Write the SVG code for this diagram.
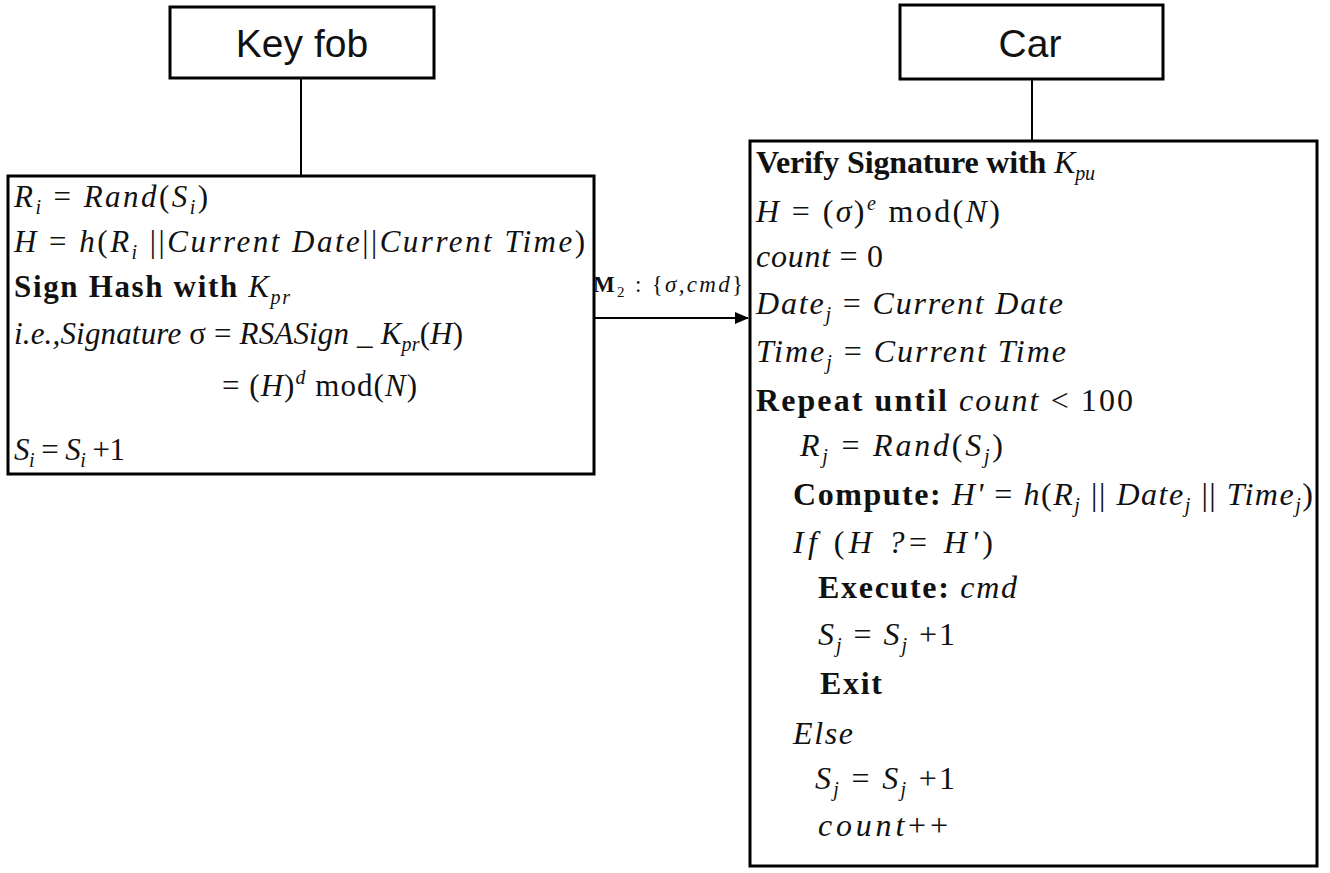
<svg xmlns="http://www.w3.org/2000/svg" width="1330" height="873" viewBox="0 0 1330 873">
<defs>
<marker id="ah" markerWidth="14" markerHeight="12" refX="13" refY="6" orient="auto" markerUnits="userSpaceOnUse">
<path d="M0,0 L14,6 L0,12 Z" fill="#000"/>
</marker>
</defs>
<style>
.box{fill:#fff;stroke:#000;stroke-width:3}
.ln{stroke:#000;stroke-width:2;fill:none}
.t{font-family:"Liberation Sans",Arial,sans-serif;font-size:39px;fill:#111}
.m{font-family:"Liberation Serif","Times New Roman",serif;font-size:31px;font-style:italic;fill:#111}
.r{font-size:32px}
.u{font-style:normal}
.b{font-style:normal;font-weight:bold}
.s{font-size:20px}
.lab{font-family:"Liberation Serif","Times New Roman",serif;font-size:23px;font-style:italic;fill:#111}
</style>
<g id="keyfob">
<rect class="box" x="170" y="7" width="264" height="71"/>
<text class="t" x="302" y="57" text-anchor="middle">Key fob</text>
</g>
<g id="car">
<rect class="box" x="900" y="5" width="263" height="74"/>
<text class="t" x="1030" y="57" text-anchor="middle">Car</text>
</g>
<g id="keyfob-proc">
<rect class="box" x="8" y="176" width="586" height="298"/>
<text class="m" x="14" y="207" textLength="194">R<tspan class="s" dy="7">i</tspan><tspan class="u" dy="-7"> = </tspan>Rand<tspan class="u">(</tspan>S<tspan class="s" dy="7">i</tspan><tspan class="u" dy="-7">)</tspan></text>
<text class="m" x="14" y="252" textLength="571">H<tspan class="u"> = </tspan>h<tspan class="u">(</tspan>R<tspan class="s" dy="7">i</tspan><tspan class="u" dy="-7"> ||</tspan>Current Date<tspan class="u">||</tspan>Current Time<tspan class="u">)</tspan></text>
<text class="m" x="14" y="297" textLength="276"><tspan class="b">Sign Hash with </tspan>K<tspan class="s" dy="7">pr</tspan></text>
<text class="m" x="14" y="344" textLength="449">i.e.,Signature <tspan class="u">σ = </tspan>RSASign<tspan class="u"> _ </tspan>K<tspan class="s" dy="7">pr</tspan><tspan class="u" dy="-7">(</tspan>H<tspan class="u">)</tspan></text>
<text class="m" x="222" y="396" textLength="195"><tspan class="u">= (</tspan>H<tspan class="u">)</tspan><tspan class="s" dy="-12">d</tspan><tspan class="u" dy="12"> mod(</tspan>N<tspan class="u">)</tspan></text>
<text class="m" x="14" y="460" textLength="111">S<tspan class="s" dy="7">i</tspan><tspan class="u" dy="-7"> = </tspan>S<tspan class="s" dy="7">i</tspan><tspan class="u" dy="-7"> +1</tspan></text>
</g>
<g id="car-proc">
<rect class="box" x="750" y="141" width="567" height="725"/>
<text class="m r" x="756" y="173" textLength="339"><tspan class="b">Verify Signature with </tspan>K<tspan class="s" dy="7">pu</tspan></text>
<text class="m r" x="756" y="222" textLength="244">H<tspan class="u"> = (</tspan>σ<tspan class="u">)</tspan><tspan class="s" dy="-12">e</tspan><tspan class="u" dy="12"> mod(</tspan>N<tspan class="u">)</tspan></text>
<text class="m r" x="756" y="267" textLength="127">count<tspan class="u"> = 0</tspan></text>
<text class="m r" x="756" y="314" textLength="307">Date<tspan class="s" dy="7">j</tspan><tspan class="u" dy="-7"> = </tspan>Current Date</text>
<text class="m r" x="756" y="362" textLength="310">Time<tspan class="s" dy="7">j</tspan><tspan class="u" dy="-7"> = </tspan>Current Time</text>
<text class="m r" x="756" y="411" textLength="377"><tspan class="b">Repeat until </tspan>count<tspan class="u">  &lt;  100</tspan></text>
<text class="m r" x="800" y="456" textLength="203">R<tspan class="s" dy="7">j</tspan><tspan class="u" dy="-7"> = </tspan>Rand<tspan class="u">(</tspan>S<tspan class="s" dy="7">j</tspan><tspan class="u" dy="-7">)</tspan></text>
<text class="m r" x="793" y="505" textLength="520"><tspan class="b">Compute: </tspan>H'<tspan class="u"> = </tspan>h<tspan class="u">(</tspan>R<tspan class="s" dy="7">j</tspan><tspan class="u" dy="-7"> || </tspan>Date<tspan class="s" dy="7">j</tspan><tspan class="u" dy="-7"> || </tspan>Time<tspan class="s" dy="7">j</tspan><tspan class="u" dy="-7">)</tspan></text>
<text class="m r" x="793" y="553" textLength="200">If <tspan class="u">(</tspan>H  ?<tspan class="u">= </tspan>H'<tspan class="u">)</tspan></text>
<text class="m r" x="818" y="598" textLength="199"><tspan class="b">Execute: </tspan>cmd</text>
<text class="m r" x="818" y="645" textLength="137">S<tspan class="s" dy="7">j</tspan><tspan class="u" dy="-7"> = </tspan>S<tspan class="s" dy="7">j</tspan><tspan class="u" dy="-7"> +1</tspan></text>
<text class="m r" x="820" y="694" textLength="62"><tspan class="b">Exit</tspan></text>
<text class="m r" x="793" y="744" textLength="60">Else</text>
<text class="m r" x="815" y="789" textLength="140">S<tspan class="s" dy="7">j</tspan><tspan class="u" dy="-7"> = </tspan>S<tspan class="s" dy="7">j</tspan><tspan class="u" dy="-7"> +1</tspan></text>
<text class="m r" x="818" y="836" textLength="130">count<tspan class="u">++</tspan></text>
</g>
<g id="connectors">
<line class="ln" x1="301" y1="78" x2="301" y2="176"/>
<line class="ln" x1="1032" y1="79" x2="1032" y2="141"/>
<line class="ln" x1="594" y1="318" x2="748" y2="318" marker-end="url(#ah)"/>
<text class="lab" x="593" y="292" textLength="150"><tspan class="b">M</tspan><tspan class="u" font-size="15" dy="5">2</tspan><tspan class="u" dy="-5"> : {</tspan>σ,cmd<tspan class="u">}</tspan></text>
</g>
</svg>
